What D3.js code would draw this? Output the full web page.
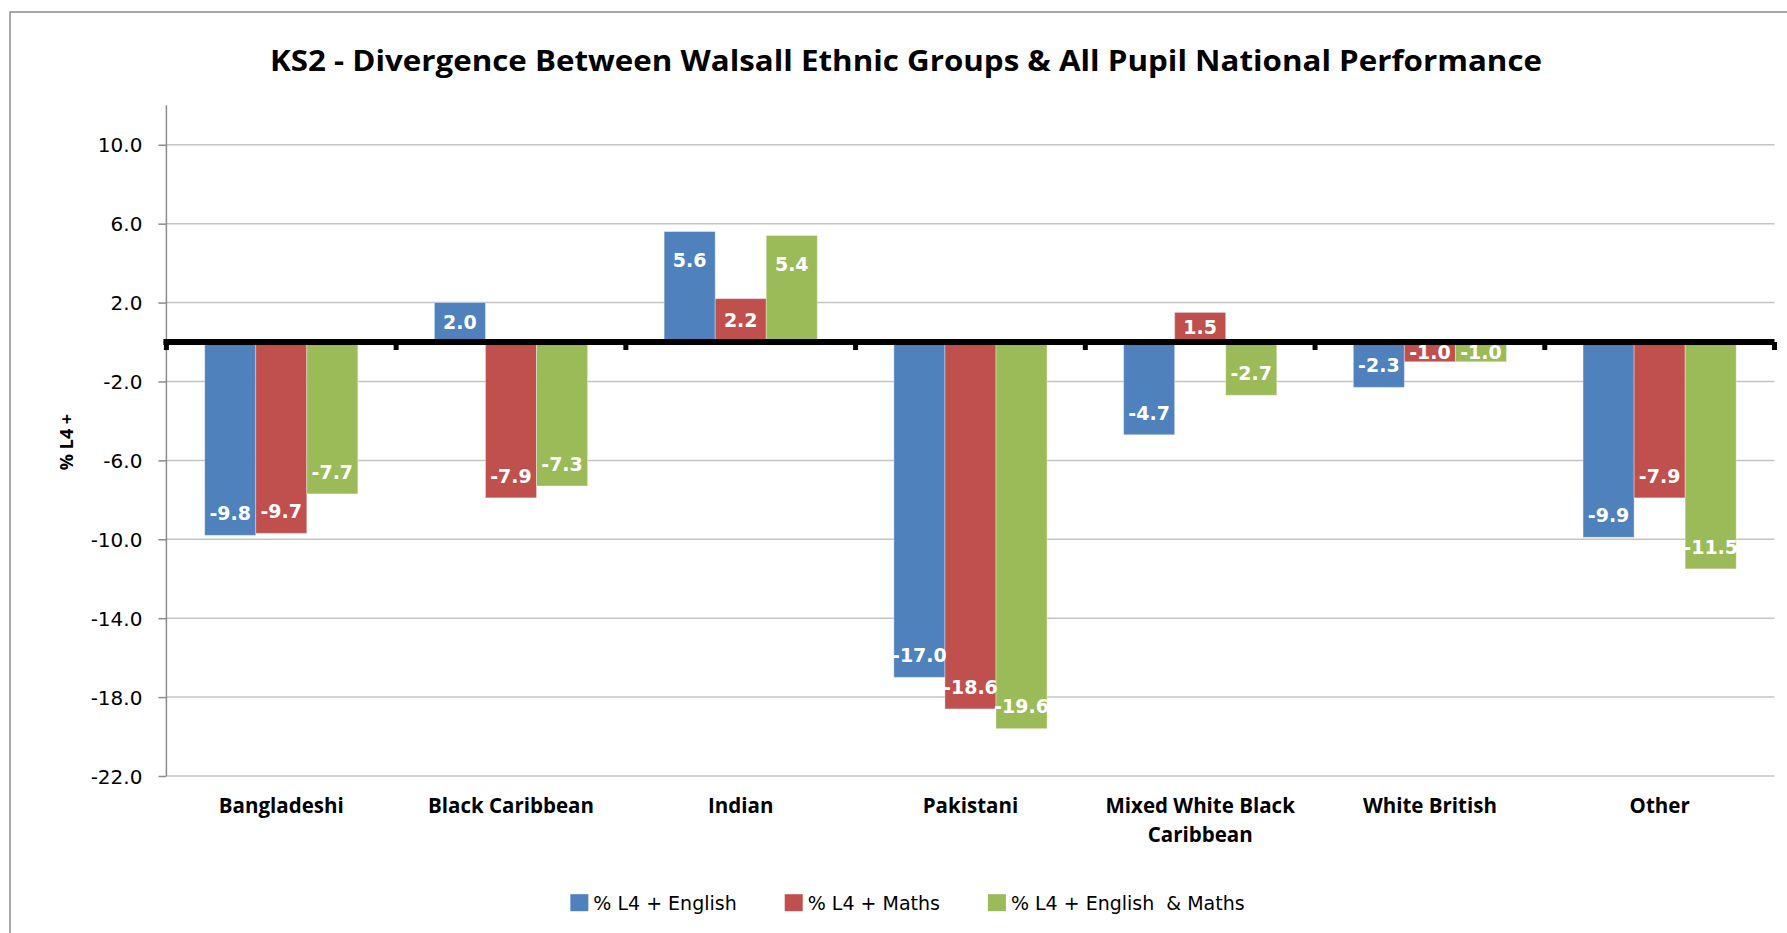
<!DOCTYPE html>
<html>
<head>
<meta charset="utf-8">
<script src="https://cdn.jsdelivr.net/npm/d3@7"></script>
<style>
  html, body { margin: 0; padding: 0; background: #fff; }
  svg { display: block; }
  text { white-space: pre; }
</style>
</head>
<body>
<script>
// ---- data ----
const title = "KS2 - Divergence Between Walsall Ethnic Groups & All Pupil National Performance";
const yAxisTitle = "% L4 +";
const categories = ["Bangladeshi", "Black Caribbean", "Indian", "Pakistani", "Mixed White Black Caribbean", "White British", "Other"];
const seriesNames = ["% L4 + English", "% L4 + Maths", "% L4 + English  & Maths"];
const english      = [-9.8,  2.0, 5.6, -17.0, -4.7, -2.3,  -9.9];
const maths        = [-9.7, -7.9, 2.2, -18.6,  1.5, -1.0,  -7.9];
const englishMaths = [-7.7, -7.3, 5.4, -19.6, -2.7, -1.0, -11.5];
const yTicks = [10, 6, 2, -2, -6, -10, -14, -18, -22];
const yDomain = [-22, 12];
const colors = ["#4F81BD", "#C0504D", "#9BBB59"];

const seriesValues = [english, maths, englishMaths];
const fmt = v => v.toFixed(1);   // plain hyphen-minus like the original

// ---- layout ----
const W = 1787, H = 933;
const plot = { left: 166.4, right: 1774.5, top: 105.3, bottom: 776 };

const svg = d3.select("body").append("svg").attr("width", W).attr("height", H);

// chart border
svg.append("rect").attr("x", 10).attr("y", 12).attr("width", 1800).attr("height", 1000)
  .attr("fill", "#fff").attr("stroke", "#8c8c8c").attr("stroke-width", 1.5);

const y = d3.scaleLinear().domain(yDomain).range([plot.bottom, plot.top]);
const x0 = d3.scaleBand().domain(categories).range([plot.left, plot.right]).paddingInner(0).paddingOuter(0);
const bw = x0.bandwidth();
const barW = bw / 4.5;            // Excel gap width 150%
const gap = bw - 3 * barW;
const x1 = d3.scaleBand().domain(d3.range(3)).range([gap / 2, bw - gap / 2]).padding(0);

// gridlines
svg.append("g").selectAll("line").data(yTicks).join("line")
  .attr("x1", plot.left).attr("x2", plot.right)
  .attr("y1", d => y(d)).attr("y2", d => y(d))
  .attr("stroke", "#c4c4c4").attr("stroke-width", 1.5);

// y axis
const yAxis = d3.axisLeft(y).tickValues(yTicks).tickFormat(fmt).tickSize(8).tickPadding(16).tickSizeOuter(0);
const gy = svg.append("g").attr("transform", `translate(${plot.left},0)`).call(yAxis);
gy.select(".domain").remove();
gy.selectAll(".tick line").attr("stroke", "#8c8c8c").attr("stroke-width", 1.5);
gy.selectAll(".tick text").attr("font-family", "DejaVu Sans").attr("font-size", 20).attr("fill", "#000")
  .attr("dy", "0.36em");
svg.append("line").attr("x1", plot.left).attr("x2", plot.left).attr("y1", plot.top).attr("y2", plot.bottom)
  .attr("stroke", "#8c8c8c").attr("stroke-width", 1.5);

// bars
const rows = [];
categories.forEach((c, i) => {
  seriesValues.forEach((vals, s) => rows.push({ cat: c, s, v: vals[i] }));
});
const y0 = y(0);
const gBars = svg.append("g");
gBars.selectAll("rect").data(rows).join("rect")
  .attr("x", d => x0(d.cat) + x1(d.s))
  .attr("width", x1.bandwidth())
  .attr("y", d => Math.min(y(d.v), y0))
  .attr("height", d => Math.abs(y(d.v) - y0))
  .attr("fill", d => colors[d.s])
  .attr("stroke", "rgba(255,255,255,0.35)").attr("stroke-width", 1);

// data labels (inside end)
const lfs = 19;
svg.append("g").selectAll("text").data(rows).join("text")
  .attr("x", d => x0(d.cat) + x1(d.s) + x1.bandwidth() / 2)
  .attr("y", d => {
    const end = y(d.v);
    const len = Math.abs(end - y0);
    let c;
    if (d.v >= 0) c = end + Math.min(28.6, len / 2);
    else c = end - Math.min(22, len / 2);
    return c + 0.36 * lfs;
  })
  .attr("text-anchor", "middle")
  .attr("font-family", "DejaVu Sans").attr("font-weight", "bold").attr("font-size", lfs)
  .attr("fill", "#fff")
  .text(d => fmt(d.v));

// zero axis line with ticks
svg.append("rect").attr("x", plot.left - 3).attr("y", y0 - 3).attr("width", plot.right - plot.left + 3).attr("height", 6).attr("fill", "#000");
const bounds = categories.map(c => x0(c)).concat([plot.right]);
svg.append("g").selectAll("rect").data(bounds).join("rect")
  .attr("x", d => d - 2.5).attr("y", y0).attr("width", 5).attr("height", 8).attr("fill", "#000");

// category labels
const catG = svg.append("g");
categories.forEach(c => {
  const t = catG.append("text")
    .attr("x", x0(c) + bw / 2).attr("y", 813)
    .attr("text-anchor", "middle")
    .attr("font-family", "Open Sans").attr("font-weight", "bold").attr("font-size", 20.5).attr("fill", "#000");
  const words = c.split(" ");
  let line = [];
  let ts = t.append("tspan").attr("x", x0(c) + bw / 2).attr("dy", 0);
  words.forEach(w => {
    line.push(w);
    ts.text(line.join(" "));
    if (ts.node().getComputedTextLength() > bw * 0.92 && line.length > 1) {
      line.pop();
      ts.text(line.join(" "));
      line = [w];
      ts = t.append("tspan").attr("x", x0(c) + bw / 2).attr("dy", 29).text(w);
    }
  });
});

// title
svg.append("text").attr("x", 906).attr("y", 71).attr("text-anchor", "middle")
  .attr("font-family", "Open Sans").attr("font-weight", "bold").attr("font-size", 29).attr("fill", "#000")
  .attr("textLength", 1272).attr("lengthAdjust", "spacingAndGlyphs")
  .text(title);

// y axis title
svg.append("text").attr("transform", "translate(73,442) rotate(-90)").attr("text-anchor", "middle")
  .attr("font-family", "Open Sans").attr("font-weight", "bold").attr("font-size", 18).attr("fill", "#000")
  .text(yAxisTitle);

// legend
const lg = svg.append("g");
const lfs2 = 19, legendCy = 902.7;
let items = seriesNames.map((n, i) => {
  const g = lg.append("g");
  g.append("rect").attr("x", 0).attr("y", legendCy - 8.5).attr("width", 18).attr("height", 17).attr("fill", colors[i]);
  const t = g.append("text").attr("x", 23).attr("y", legendCy + 0.36 * lfs2)
    .attr("font-family", "DejaVu Sans").attr("font-size", lfs2).attr("fill", "#000").text(n);
  return { g, w: 23 + t.node().getComputedTextLength() };
});
const legendGap = 48;
const total = d3.sum(items, d => d.w) + legendGap * (items.length - 1);
let cx = 907.5 - total / 2;
items.forEach(it => { it.g.attr("transform", `translate(${cx},0)`); cx += it.w + legendGap; });
</script>
</body>
</html>
